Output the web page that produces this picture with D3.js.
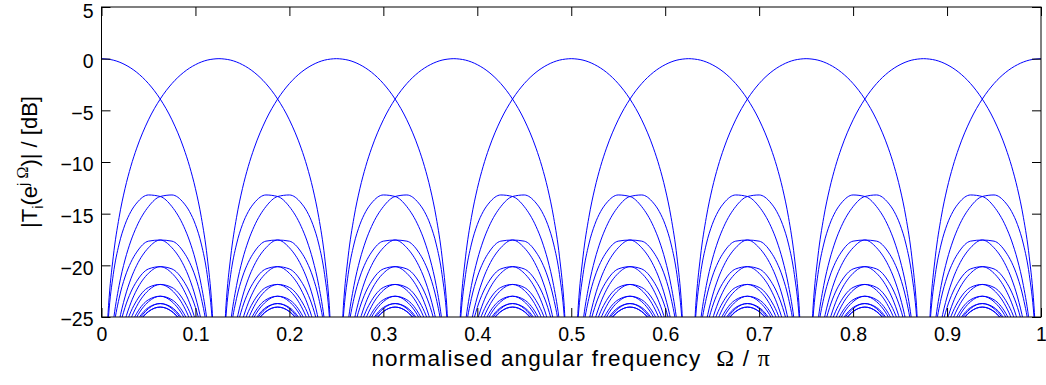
<!DOCTYPE html>
<html>
<head>
<meta charset="utf-8">
<script src="https://cdn.jsdelivr.net/npm/d3@7"></script>
<style>
  body { margin: 0; background: #fff; }
  text { font-family: "Liberation Sans", Arial, Helvetica, sans-serif; fill: #000; }
  .axis path, .axis line { stroke: #000; }
  .sym { font-family: "Liberation Serif", "Times New Roman", serif; }
</style>
</head>
<body>
<div id="chart"></div>
<script>
// centre frequency (Omega/pi) of each of the 16 channels, read from the main-lobe peaks
var channelCentres = [0, 0.125, 0.25, 0.375, 0.5, 0.625, 0.75, 0.875,
                      1, 1.125, 1.25, 1.375, 1.5, 1.625, 1.75, 1.875];
// spacing of the response zeros (Omega/pi)
var zeroSpacing = 0.125;

// main lobe, from the peak down to the first zero (position inside the band 0..1, dB)
var mainLobeT  = [0, 0.05, 0.1, 0.2, 0.3, 0.4, 0.5, 0.6, 0.7, 0.75, 0.8, 0.85, 0.9, 0.94, 0.97];
var mainLobeDb = [0, -0.04, -0.14, -0.58, -1.32, -2.41, -3.91, -5.92, -8.66, -10.42, -12.58, -15.35, -19.18, -23.90, -30.15];

// side lobes 1..7 between two zeros (position inside the band 0..1, dB)
var sidelobeT = [0.03, 0.06, 0.1, 0.15, 0.2, 0.25, 0.3, 0.4, 0.5, 0.6, 0.7, 0.75, 0.8, 0.85, 0.9, 0.94, 0.97];
var sidelobeDb = [
  [-30.67, -24.93, -20.90, -17.94, -16.06, -14.80, -13.97, -13.19, -13.34, -14.32, -16.23, -17.64, -19.48, -21.95, -25.52, -30.03, -36.14],
  [-36.39, -30.53, -26.34, -23.19, -21.13, -19.71, -18.72, -17.66, -17.55, -18.30, -20.00, -21.31, -23.06, -25.44, -28.92, -33.37, -39.43],
  [-39.58, -33.67, -29.43, -26.21, -24.08, -22.59, -21.54, -20.35, -20.13, -20.77, -22.37, -23.63, -25.33, -27.67, -31.10, -35.52, -41.55],
  [-41.65, -35.72, -31.44, -28.18, -26.02, -24.49, -23.40, -22.14, -21.85, -22.42, -23.96, -25.19, -26.86, -29.16, -32.56, -36.96, -42.97],
  [-43.04, -37.09, -32.79, -29.50, -27.31, -25.76, -24.64, -23.33, -22.99, -23.52, -25.01, -26.22, -27.86, -30.14, -33.52, -37.90, -43.90],
  [-43.94, -37.98, -33.66, -30.36, -28.14, -26.57, -25.43, -24.08, -23.70, -24.19, -25.64, -26.83, -28.45, -30.72, -34.08, -38.44, -44.43],
  [-44.45, -38.48, -34.15, -30.82, -28.59, -27.00, -25.84, -24.46, -24.04, -24.49, -25.91, -27.08, -28.69, -30.94, -34.28, -38.63, -44.61]
];

var xTicks = [0, 0.1, 0.2, 0.3, 0.4, 0.5, 0.6, 0.7, 0.8, 0.9, 1];
var yTicks = [5, 0, -5, -10, -15, -20, -25];

var svgWidth = 1046;
var svgHeight = 385;
var margin = { top: 7, right: 5, bottom: 68, left: 101.5 };
var width = svgWidth - margin.left - margin.right;
var height = svgHeight - margin.top - margin.bottom;

var svg = d3.select("#chart")
  .append("svg")
  .attr("width", svgWidth)
  .attr("height", svgHeight);

var chartGroup = svg.append("g")
  .attr("transform", `translate(${margin.left}, ${margin.top})`);

var xScale = d3.scaleLinear().domain([0, 1]).range([0, width]);
var yScale = d3.scaleLinear().domain([-25, 5]).range([height, 0]);

chartGroup.append("clipPath")
  .attr("id", "plotClip")
  .append("rect")
  .attr("width", width)
  .attr("height", height);

// one channel's curve over 0..1, band by band
function channelPoints(centre) {
  var n = channelCentres.length;
  var bands = Math.round(1 / zeroSpacing);
  var pts = [];
  function add(x, v) {
    if (pts.length && Math.abs(pts[pts.length - 1][0] - x) < 1e-9) return;
    pts.push([x, v]);
  }
  for (var j = 0; j < bands; j++) {
    var start = j * zeroSpacing;
    var m = ((Math.round((start - centre) / zeroSpacing) % n) + n) % n;
    if (m === 0) {
      mainLobeT.forEach((t, k) => add(start + t * zeroSpacing, mainLobeDb[k]));
    } else if (m === n - 1) {
      for (var k = mainLobeT.length - 1; k >= 0; k--)
        add(start + (1 - mainLobeT[k]) * zeroSpacing, mainLobeDb[k]);
    } else if (m < n / 2) {
      sidelobeT.forEach((t, k) => add(start + t * zeroSpacing, sidelobeDb[m - 1][k]));
    } else {
      var lobe = sidelobeDb[n - 1 - m - 1];
      for (var k = sidelobeT.length - 1; k >= 0; k--)
        add(start + (1 - sidelobeT[k]) * zeroSpacing, lobe[k]);
    }
  }
  return pts;
}

var line = d3.line()
  .x(d => xScale(d[0]))
  .y(d => yScale(d[1]))
  .curve(d3.curveMonotoneX);

chartGroup.append("g")
  .attr("clip-path", "url(#plotClip)")
  .selectAll("path")
  .data(channelCentres)
  .enter()
  .append("path")
  .attr("d", d => line(channelPoints(d)))
  .attr("fill", "none")
  .attr("stroke", "#0000ff")
  .attr("stroke-width", 1);

// axes, ticks inward on all four sides
var tickLen = 9;

var xAxis = d3.axisBottom(xScale).tickValues(xTicks).tickFormat(d3.format(""))
  .tickSizeInner(-tickLen).tickSizeOuter(0).tickPadding(10);
var yAxis = d3.axisLeft(yScale).tickValues(yTicks).tickFormat(d => d < 0 ? "\u2212" + Math.abs(d) : d)
  .tickSizeInner(-tickLen).tickSizeOuter(0).tickPadding(8);

chartGroup.append("g")
  .attr("class", "axis")
  .attr("transform", `translate(0, ${height})`)
  .call(xAxis);

chartGroup.append("g")
  .attr("class", "axis yAxis")
  .call(yAxis);

chartGroup.append("g")
  .attr("class", "axis")
  .call(d3.axisTop(xScale).tickValues(xTicks).tickFormat("").tickSizeInner(-tickLen).tickSizeOuter(0));

chartGroup.append("g")
  .attr("class", "axis")
  .attr("transform", `translate(${width}, 0)`)
  .call(d3.axisRight(yScale).tickValues(yTicks).tickFormat("").tickSizeInner(-tickLen).tickSizeOuter(0));

chartGroup.selectAll(".axis .domain").remove();
chartGroup.append("rect")
  .attr("width", width)
  .attr("height", height)
  .attr("fill", "none")
  .attr("stroke", "#000")
  .attr("stroke-width", 1);

chartGroup.selectAll(".axis text")
  .attr("font-size", 19.5)
  .attr("font-family", "Liberation Sans, Arial, sans-serif");
// top label sits against the window edge, nudge it down so it stays inside
chartGroup.selectAll(".yAxis text").attr("dy", d => d === 5 ? "0.56em" : "0.45em");

// axis labels
var xLabel = chartGroup.append("text")
  .attr("x", width / 2)
  .attr("y", height + 49)
  .attr("text-anchor", "middle")
  .attr("font-size", 22.5)
  .attr("letter-spacing", 1.2);
xLabel.append("tspan").text("normalised angular frequency\u00A0 ");
xLabel.append("tspan").attr("class", "sym").attr("font-size", 24).text("\u03A9");
xLabel.append("tspan").text(" / ");
xLabel.append("tspan").attr("class", "sym").attr("font-size", 24).text("\u03C0");

var yLabel = chartGroup.append("text")
  .attr("transform", `translate(${37 - margin.left}, ${height / 2}) rotate(-90)`)
  .attr("text-anchor", "middle")
  .attr("font-size", 22);
yLabel.append("tspan").text("|T");
yLabel.append("tspan").attr("dy", 6).attr("font-size", 15).text("i");
yLabel.append("tspan").attr("dy", -6).text("(e");
yLabel.append("tspan").attr("dy", -9).attr("font-size", 15).text("j ");
yLabel.append("tspan").attr("class", "sym").attr("font-size", 16).text("\u03A9");
yLabel.append("tspan").attr("dy", 9).text(")| / [dB]");
</script>
</body>
</html>
